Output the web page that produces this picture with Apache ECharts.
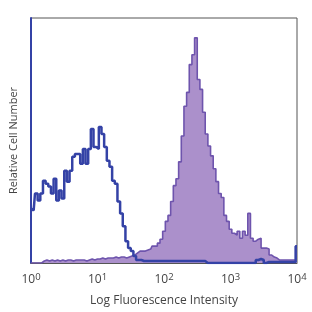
<!DOCTYPE html>
<html>
<head>
<meta charset="utf-8">
<script src="https://cdn.jsdelivr.net/npm/echarts@6/dist/echarts.min.js"></script>
<style>
html,body{margin:0;padding:0;background:#fff;}
#c{width:312px;height:312px;}
</style>
</head>
<body>
<div id="c"></div>
<script>
// log10 of fluorescence intensity for each histogram bin
const logBins = [0.00,0.04,0.08,0.12,0.16,0.20,0.24,0.28,0.32,0.36,0.40,0.44,0.48,0.52,0.56,0.60,0.64,0.68,0.72,0.76,
0.80,0.84,0.88,0.92,0.96,1.00,1.04,1.08,1.12,1.16,1.20,1.24,1.28,1.32,1.36,1.40,1.44,1.48,1.52,1.56,
1.60,1.64,1.68,1.72,1.76,1.80,1.84,1.88,1.92,1.96,2.00,2.04,2.08,2.12,2.16,2.20,2.24,2.28,2.32,2.36,
2.40,2.44,2.48,2.52,2.56,2.60,2.64,2.68,2.72,2.76,2.80,2.84,2.88,2.92,2.96,3.00,3.04,3.08,3.12,3.16,
3.20,3.24,3.28,3.32,3.36,3.40,3.44,3.48,3.52,3.56,3.60,3.64,3.68,3.72,3.76,3.80,3.84,3.88,3.92,3.96,4.00];

// isotype control (blue outline)
const isotype = [55,53,70,63,70,83,80,77,70,85,63,73,65,93,82,93,107,110,110,100,
115,100,115,135,117,115,137,130,117,103,97,83,80,62,50,37,22,15,12,7,
3,3,2,2,2,2,2,2,2,2,2,2,2,2,2,2,2,2,2,2,
2,2,2,2,2,2,0,0,0,0,0,0,0,0,0,0,0,0,0,0,
0,0,0,0,0,3,4,3,0,1,1,1,1,1,1,1,1,1,1,1,17];

// stained sample (filled purple)
const stained = [0,0,0,0,0,2,3,2,3,2,3,2,3,2,3,3,2,3,3,3,
3,2,3,4,3,4,4,5,4,5,5,5,6,5,6,6,5,6,7,8,
10,12,12,12,13,14,17,17,20,24,32,42,48,62,78,85,102,128,158,172,
200,210,227,185,175,152,130,118,108,95,82,70,66,48,42,34,30,28,32,25,
32,28,50,25,22,24,25,15,15,14,8,6,5,3,3,3,3,3,3,3,17];

// tick labels (exponents of 10)
const tickExponents = ['0','1','2','3','4'];

const font = '"Open Sans", "DejaVu Sans", sans-serif';
const chart = echarts.init(document.getElementById('c'), null, {renderer:'canvas'});
chart.setOption({
  animation:false,
  backgroundColor:'#fff',
  grid:{left:25,right:15,top:18,bottom:47,show:true,borderColor:'#555',borderWidth:1},
  xAxis:{
    type:'value',min:0,max:4,interval:1,
    axisLine:{show:true,lineStyle:{color:'#555',width:1}},
    axisTick:{show:false},splitLine:{show:false},
    axisLabel:{
      margin:9,
      formatter:function(v){return '{b|10}{s|'+tickExponents[Math.round(v)]+'}';},
      rich:{
        b:{fontSize:12,color:'#444',fontFamily:font,verticalAlign:'bottom',lineHeight:14},
        s:{fontSize:9.5,color:'#444',fontFamily:font,verticalAlign:'top',padding:[0,0,6,0],lineHeight:14}
      }
    },
    name:'Log Fluorescence Intensity',nameLocation:'middle',nameGap:32,
    nameTextStyle:{fontSize:12,color:'#444',fontFamily:font}
  },
  yAxis:{
    type:'value',min:0,max:247,
    axisLine:{show:true,lineStyle:{color:'#3442a6',width:2}},
    axisTick:{show:false},axisLabel:{show:false},splitLine:{show:false},
    name:'Relative Cell Number',nameLocation:'middle',nameGap:12,nameRotate:90,
    nameTextStyle:{fontSize:11,color:'#444',fontFamily:font}
  },
  series:[
    {
      type:'line',step:'middle',symbol:'none',
      data:logBins.map((x,i)=>[x,stained[i]]),
      lineStyle:{color:'#6e54ad',width:1.6},
      areaStyle:{color:'#ab90cb',opacity:1},
      z:2
    },
    {
      type:'line',step:'middle',symbol:'none',
      data:logBins.map((x,i)=>[x,isotype[i]]),
      lineStyle:{color:'#3442a6',width:2.5},
      z:3
    }
  ]
});
</script>
</body>
</html>
